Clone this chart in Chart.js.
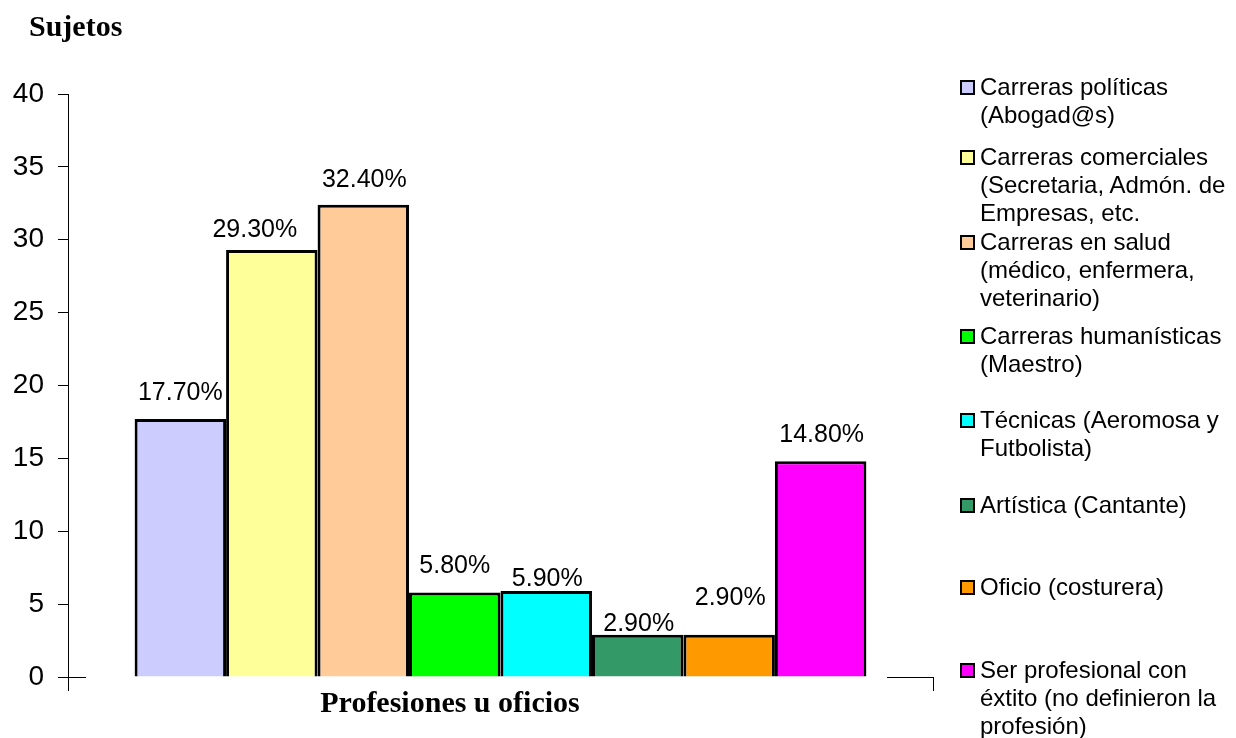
<!DOCTYPE html>
<html>
<head>
<meta charset="utf-8">
<script src="https://cdn.jsdelivr.net/npm/chart.js@4"></script>
<style>
  body { margin: 0; background: #fff; }
  #wrap { position: relative; width: 1236px; height: 738px; overflow: hidden; }
  #chart { position: absolute; left: 0; top: 0; }
  .ttl { position: absolute; font-family: "Liberation Serif", "Times New Roman", serif; font-weight: bold; font-size: 30px; line-height: 30px; color: #000; white-space: nowrap; }
  .item { position: absolute; left: 980px; font-family: "Liberation Sans", Arial, sans-serif; font-size: 24px; line-height: 28px; color: #000; white-space: pre; }
  .box { position: absolute; left: 960px; width: 15px; height: 15px; border: 2px solid #000; box-sizing: border-box; }
</style>
</head>
<body>
<div id="wrap">
  <canvas id="chart" width="1236" height="738"></canvas>
  <div class="ttl" style="left:29px; top:11px;">Sujetos</div>
  <div class="ttl" id="xTitle" style="left:250px; width:400px; text-align:center; top:687px;"></div>
  <div id="legend"></div>
</div>
<script>
// data
const categories = [
  "Carreras políticas\n(Abogad@s)",
  "Carreras comerciales\n(Secretaria, Admón. de\nEmpresas, etc.",
  "Carreras en salud\n(médico, enfermera,\nveterinario)",
  "Carreras humanísticas\n(Maestro)",
  "Técnicas (Aeromosa y\nFutbolista)",
  "Artística (Cantante)",
  "Oficio (costurera)",
  "Ser profesional con\néxtito (no definieron la\nprofesión)"
];
const values = [17.7, 29.3, 32.4, 5.8, 5.9, 2.9, 2.9, 14.8];
const yTicks = [0, 5, 10, 15, 20, 25, 30, 35, 40];
const xLabel = "Profesiones u oficios";

// look
const colors = ["#CCCCFF", "#FFFF99", "#FFCC99", "#00FF00", "#00FFFF", "#339966", "#FF9900", "#FF00FF"];
// value labels: [dx, gap above bar top to baseline]
const labelNudge = [[0, 19], [-17, 13], [1, 18], [0, 19], [1, 5], [1, 4], [1, 30], [1, 19]];
// legend: centre of first line of each entry
const legendRows = [87, 157, 242, 336, 420, 505, 587, 670];

document.getElementById("xTitle").textContent = xLabel;

const legend = document.getElementById("legend");
categories.forEach((name, i) => {
  const box = document.createElement("div");
  box.className = "box";
  box.style.top = (legendRows[i] - 7) + "px";
  box.style.background = colors[i];
  legend.appendChild(box);
  const txt = document.createElement("div");
  txt.className = "item";
  txt.style.top = (legendRows[i] - 14) + "px";
  txt.textContent = name;
  legend.appendChild(txt);
});

// percentages over the bars
const valueLabels = {
  id: "valueLabels",
  afterDatasetsDraw(chart) {
    const ctx = chart.ctx;
    ctx.save();
    ctx.font = "25px 'Liberation Sans', Arial, sans-serif";
    ctx.fillStyle = "#000";
    ctx.textAlign = "center";
    ctx.textBaseline = "alphabetic";
    chart.data.datasets.forEach((ds, i) => {
      const bar = chart.getDatasetMeta(i).data[0];
      ctx.fillText(ds.data[0].toFixed(2) + "%", bar.x + labelNudge[i][0], bar.y - labelNudge[i][1]);
    });
    ctx.restore();
  }
};

// the short pieces of the category axis line
const axisBits = {
  id: "axisBits",
  afterDraw(chart) {
    const { left, right, bottom } = chart.chartArea;
    const ctx = chart.ctx;
    ctx.save();
    ctx.strokeStyle = "#000";
    ctx.lineWidth = 1;
    ctx.beginPath();
    ctx.moveTo(left, bottom + 0.5);
    ctx.lineTo(left + 18, bottom + 0.5);
    ctx.moveTo(right - 46, bottom + 0.5);
    ctx.lineTo(right, bottom + 0.5);
    ctx.stroke();
    ctx.restore();
  }
};

new Chart(document.getElementById("chart"), {
  type: "bar",
  data: {
    labels: [xLabel],
    datasets: categories.map((c, i) => ({
      label: c,
      data: [values[i]],
      backgroundColor: colors[i],
      borderColor: "#000",
      borderWidth: 3,
      borderSkipped: "bottom",
      categoryPercentage: 0.846,
      barPercentage: 1
    }))
  },
  options: {
    responsive: false,
    devicePixelRatio: 1,
    animation: false,
    layout: { padding: { left: 0, top: 94, right: 303, bottom: 0 } },
    plugins: { legend: { display: false }, tooltip: { enabled: false } },
    scales: {
      x: {
        ticks: { display: false },
        border: { display: false },
        grid: { offset: true, drawOnChartArea: false, drawTicks: true, tickLength: 14, color: "#000", lineWidth: 1 },
        afterFit: (scale) => { scale.height = 61; }
      },
      y: {
        min: 0,
        max: 40,
        afterBuildTicks: (scale) => { scale.ticks = yTicks.map(v => ({ value: v })); },
        ticks: {
          color: "#000",
          padding: 14,
          font: { family: "'Liberation Sans', Arial, sans-serif", size: 28 }
        },
        border: { display: true, color: "#000", width: 1 },
        grid: { drawOnChartArea: false, drawTicks: true, tickLength: 10, color: "#000", lineWidth: 1 },
        afterFit: (scale) => { scale.width = 68; }
      }
    }
  },
  plugins: [valueLabels, axisBits]
});
</script>
</body>
</html>
